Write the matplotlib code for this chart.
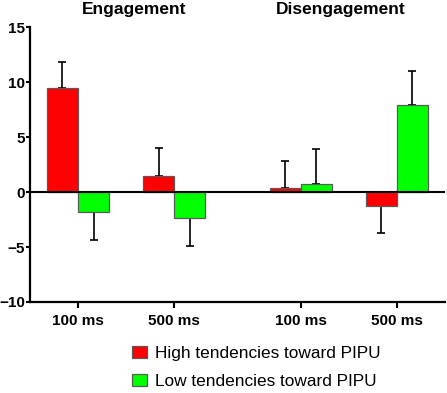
import numpy as np
import matplotlib
matplotlib.use("Agg")
import matplotlib.pyplot as plt

plt.rcParams['font.family'] = ['Liberation Sans', 'DejaVu Sans']

groups = ['Engagement', 'Disengagement']
tick_labels = ['100 ms', '500 ms', '100 ms', '500 ms']
high_vals = [9.45, 1.45, 0.35, -1.25]
high_err = [2.4, 2.55, 2.5, 2.5]
low_vals = [-1.85, -2.35, 0.75, 7.95]
low_err = [2.5, 2.6, 3.2, 3.05]
series_names = ['High tendencies toward PIPU', 'Low tendencies toward PIPU']
colors = ['#ff0000', '#00ff00']


def main():
    fig = plt.figure(figsize=(4.47, 3.93), dpi=100)
    ax = fig.add_axes([0.067, 0.2316, 0.9285, 0.6994])

    pos = np.array([0, 1, 2.32, 3.32])
    w = 0.323

    bars = []
    for vals, errs, color, off in [(high_vals, high_err, colors[0], -w / 2),
                                   (low_vals, low_err, colors[1], w / 2)]:
        vals = np.array(vals)
        errs = np.array(errs)
        lower = np.where(vals < 0, errs, 0)
        upper = np.where(vals >= 0, errs, 0)
        b = ax.bar(pos + off, vals, w, color=color, edgecolor='#5a5a5a',
                   linewidth=0.9, zorder=2)
        ax.errorbar(pos + off, vals, yerr=[lower, upper], fmt='none',
                    ecolor='black', elinewidth=1.2, capsize=3.2,
                    capthick=1.2, zorder=1)
        bars.append(b)

    ax.axhline(0, color='black', linewidth=1.5, zorder=3)

    ax.set_xlim(-0.5, 3.82)
    ax.set_ylim(-10, 15)
    ax.set_yticks([-10, -5, 0, 5, 10, 15])
    ax.set_xticks(pos)
    ax.set_xticklabels(tick_labels, fontweight='bold', fontsize=11)
    for lab in ax.get_yticklabels():
        lab.set_fontweight('bold')
        lab.set_fontsize(11)

    for s in ['top', 'right']:
        ax.spines[s].set_visible(False)
    for s in ['left', 'bottom']:
        ax.spines[s].set_linewidth(1.6)
    ax.tick_params(axis='x', width=1.5, length=4, pad=5)
    ax.tick_params(axis='y', width=1.5, length=3, pad=0.5)

    for name, xc in zip(groups, [134, 341]):
        fig.text(xc / 447, 0.976, name, ha='center', va='center',
                 fontsize=12.5, fontweight='bold')

    fig.legend(bars, series_names, loc='upper left',
               bbox_to_anchor=(0.295, 0.1196), frameon=False, fontsize=12.4,
               handlelength=0.85, handleheight=0.7, handletextpad=0.52,
               labelspacing=0.75, borderpad=0, borderaxespad=0)

    fig.savefig('out.png', dpi=100)


if __name__ == "__main__":
    main()
